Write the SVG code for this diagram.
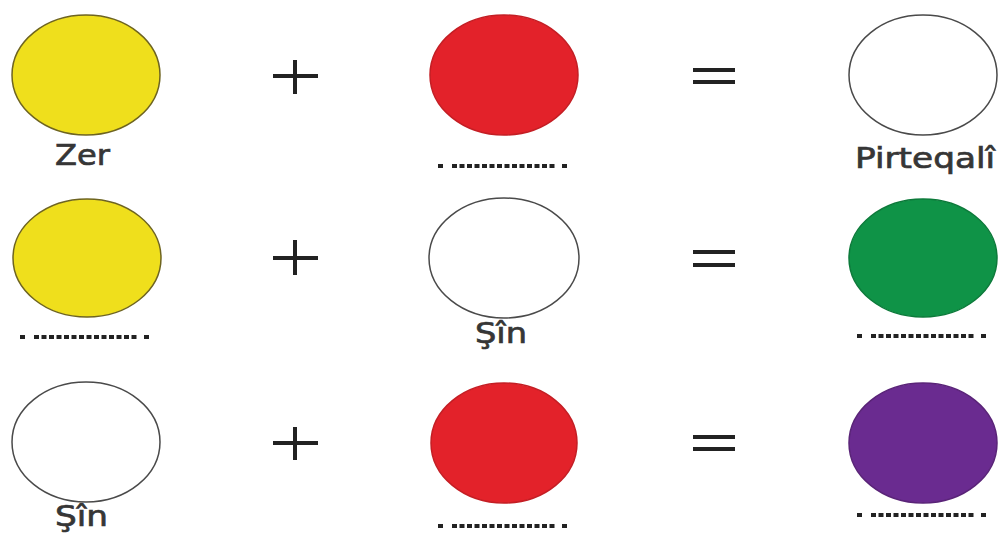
<svg xmlns="http://www.w3.org/2000/svg" xmlns:xlink="http://www.w3.org/1999/xlink" width="998" height="534" viewBox="0 0 998 534">
<style>
.el{stroke-width:1.5}
.yellow{fill:#efdf1c;stroke:#6e6420}
.red{fill:#e3222a;stroke:#c41e24}
.white{fill:#ffffff;stroke:#4a4a4a}
.green{fill:#0f9347;stroke:#0c7a3a}
.purple{fill:#6a2b90;stroke:#5a2478}
.op{stroke:#222;stroke-width:4;fill:none}
.lbl{font-family:"DejaVu Sans","Liberation Sans",sans-serif;font-size:29px;fill:#363636;stroke:#363636;stroke-width:0.7}
.dot{fill:#222}
.dl{stroke:#222;stroke-width:4;stroke-dasharray:5 2.5}
</style>
<defs>
<g id="dots">
<rect class="dot" x="0" y="-2" width="5" height="4"/>
<line class="dl" x1="14" y1="0" x2="116.5" y2="0"/>
<rect class="dot" x="124" y="-2" width="5" height="4"/>
</g>
</defs>
<rect width="998" height="534" fill="#ffffff"/>

<g id="row1-left">
<ellipse class="el yellow" cx="86" cy="75" rx="74" ry="60"/>
<text class="lbl" x="55" y="165" textLength="55" lengthAdjust="spacingAndGlyphs">Zer</text>
</g>
<g id="row1-plus"><path class="op" d="M273 76H318M295 60V94"/></g>
<g id="row1-mid">
<ellipse class="el red" cx="504" cy="75" rx="74" ry="60"/>
<use xlink:href="#dots" x="438" y="166"/>
</g>
<g id="row1-eq"><path class="op" d="M693 70H735M693 82H735"/></g>
<g id="row1-right">
<ellipse class="el white" cx="923" cy="75" rx="74" ry="60"/>
<text class="lbl" x="855" y="168" textLength="140" lengthAdjust="spacingAndGlyphs">Pirteqalî</text>
</g>

<g id="row2-left">
<ellipse class="el yellow" cx="87" cy="258" rx="74" ry="59"/>
<use xlink:href="#dots" x="20" y="337"/>
</g>
<g id="row2-plus"><path class="op" d="M273 258H318M295 240V275"/></g>
<g id="row2-mid">
<ellipse class="el white" cx="504" cy="258" rx="75" ry="60"/>
<text class="lbl" x="475" y="343" textLength="52" lengthAdjust="spacingAndGlyphs">Şîn</text>
</g>
<g id="row2-eq"><path class="op" d="M693 252H735M693 265H735"/></g>
<g id="row2-right">
<ellipse class="el green" cx="923" cy="258" rx="74" ry="59"/>
<use xlink:href="#dots" x="857" y="336"/>
</g>

<g id="row3-left">
<ellipse class="el white" cx="86" cy="442" rx="74" ry="60"/>
<text class="lbl" x="55" y="526" textLength="53" lengthAdjust="spacingAndGlyphs">Şîn</text>
</g>
<g id="row3-plus"><path class="op" d="M273 443H318M295 427V460"/></g>
<g id="row3-mid">
<ellipse class="el red" cx="504" cy="443" rx="73" ry="60"/>
<use xlink:href="#dots" x="438" y="526"/>
</g>
<g id="row3-eq"><path class="op" d="M693 437H735M693 449H735"/></g>
<g id="row3-right">
<ellipse class="el purple" cx="923" cy="443" rx="74" ry="60"/>
<use xlink:href="#dots" x="857" y="515"/>
</g>
</svg>
